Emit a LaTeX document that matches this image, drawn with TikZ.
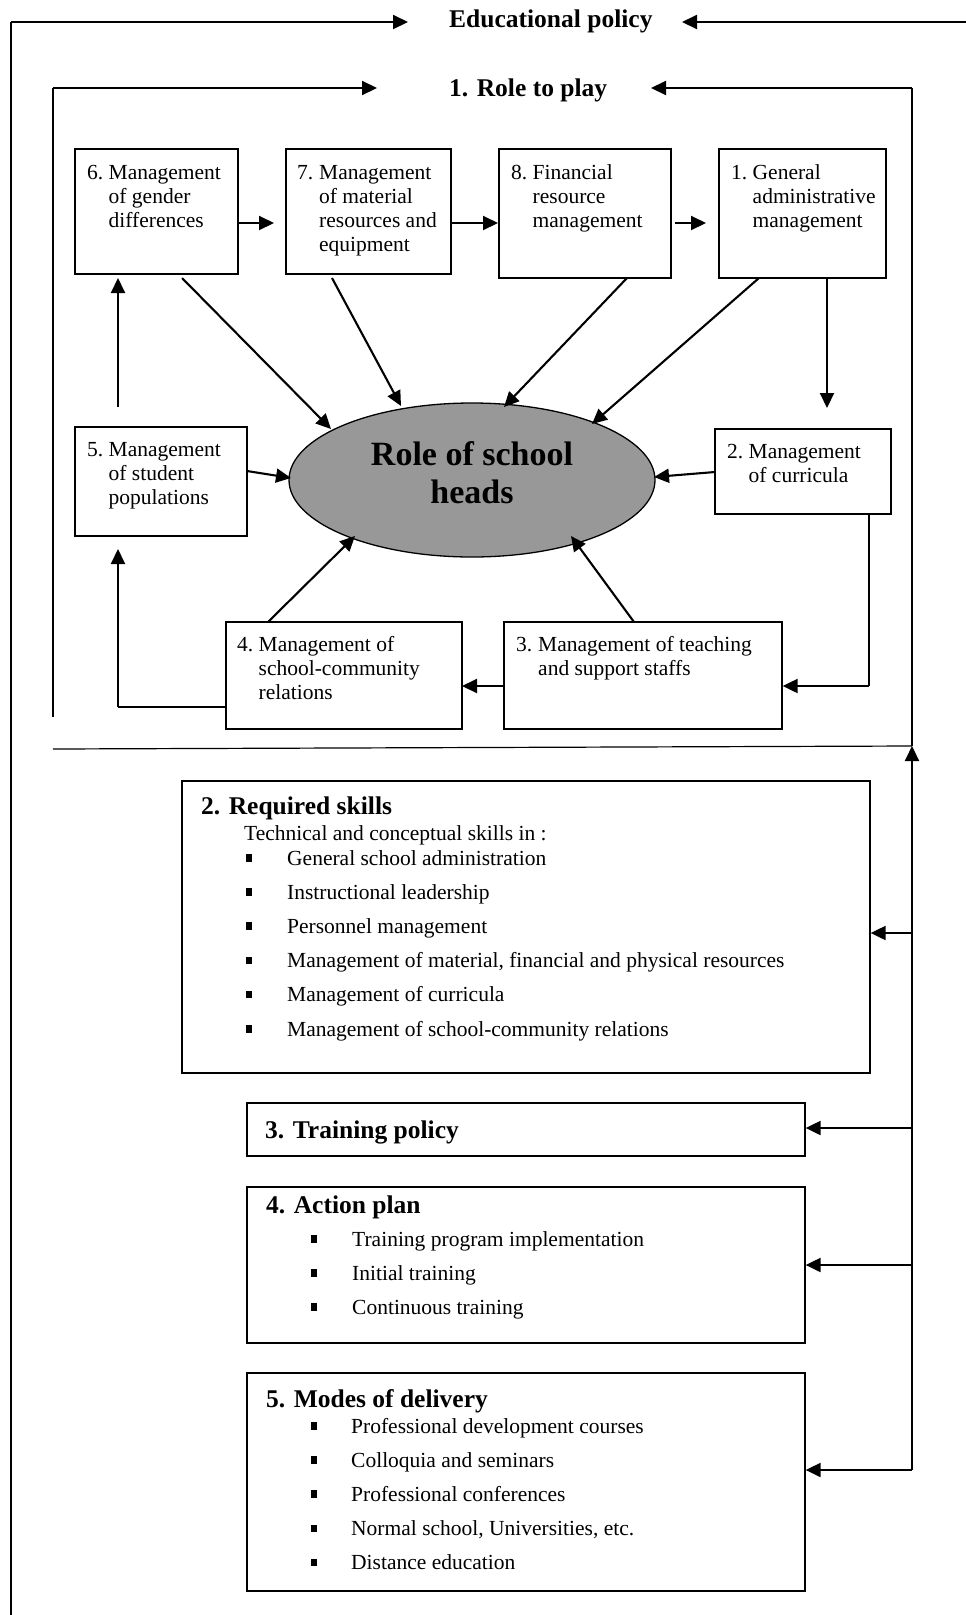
\documentclass[tikz,border=0pt]{standalone}
\usepackage{fontspec}
\setmainfont{Liberation Serif}
\usetikzlibrary{arrows.meta,shapes.geometric}
\definecolor{ellgray}{RGB}{152,152,152}
\begin{document}
\begin{tikzpicture}[x=1pt,y=-1pt,
  box/.style={draw, line width=1.3pt, inner sep=0pt, rectangle},
  frame/.style={line width=1.2pt},
  arr/.style={line width=2.1pt, -{Triangle[length=15pt,width=14pt]}},
  thinl/.style={line width=1.3pt},
  txt/.style={anchor=base west, inner sep=0pt, font=\fontsize{21.5}{24}\selectfont},
  head/.style={anchor=base west, inner sep=0pt, font=\fontsize{25.5}{30}\selectfont\bfseries}]
\useasboundingbox (0,0) rectangle (966,1615);
\fill[white] (0,0) rectangle (966,1615);

% ---------- titles ----------
\node[head] (ep) at (449,27) {Educational policy};
\node[head] (rp) at (449,96) {1. Role to play};

% ---------- outer frame ----------
\coordinate (o1) at (11,1615);
\coordinate (o2) at (11,22);
\coordinate (o2t) at (408,22);
\coordinate (o3) at (966,22);
\coordinate (o3t) at (682,22);
\draw[frame] (o1) -- (o2);
\draw[arr] (o2) -- (o2t);
\draw[arr] (o3) -- (o3t);

% ---------- inner frame ----------
\coordinate (i1) at (53,717);
\coordinate (i2) at (53,88);
\coordinate (i2t) at (377,88);
\coordinate (i3) at (912,746);
\coordinate (i4) at (912,88);
\coordinate (i4t) at (651,88);
\coordinate (sepL) at (53,749);
\draw[frame] (i1) -- (i2);
\draw[arr] (i2) -- (i2t);
\draw[frame] (i3) -- (i4);
\draw[arr] (i4) -- (i4t);
\draw[frame] (sepL) -- (i3);

% ---------- boxes of the role section ----------
\node[box, minimum width=163, minimum height=125] (b6) at (156.5,211.5) {};
\node[box, minimum width=165, minimum height=125] (b7) at (368.5,211.5) {};
\node[box, minimum width=172, minimum height=129] (b8) at (585,213.5) {};
\node[box, minimum width=167, minimum height=129] (b1) at (802.5,213.5) {};
\node[box, minimum width=172, minimum height=109] (b5) at (161,481.5) {};
\node[box, minimum width=176, minimum height=85] (b2) at (803,471.5) {};
\node[box, minimum width=236, minimum height=107] (b4) at (344,675.5) {};
\node[box, minimum width=278, minimum height=107] (b3) at (643,675.5) {};
\node[ellipse, draw, fill=ellgray, line width=1.3pt, inner sep=0pt,
      minimum width=366, minimum height=154] (el) at (472,480) {};

% box texts
\node[txt] (t6) at (87,179) {\begin{tabular}[t]{@{}p{21.5pt}@{}l@{}}6.&Management\\&of gender\\&differences\end{tabular}};
\node[txt] (t7) at (297,179) {\begin{tabular}[t]{@{}p{22pt}@{}l@{}}7.&Management\\&of material\\&resources and\\&equipment\end{tabular}};
\node[txt] (t8) at (511,179) {\begin{tabular}[t]{@{}p{21.5pt}@{}l@{}}8.&Financial\\&resource\\&management\end{tabular}};
\node[txt] (t1) at (731,179) {\begin{tabular}[t]{@{}p{21.5pt}@{}l@{}}1.&General\\&administrative\\&management\end{tabular}};
\node[txt] (t5) at (87,456) {\begin{tabular}[t]{@{}p{21.5pt}@{}l@{}}5.&Management\\&of student\\&populations\end{tabular}};
\node[txt] (t2) at (727,458) {\begin{tabular}[t]{@{}p{21.5pt}@{}l@{}}2.&Management\\&of curricula\end{tabular}};
\node[txt] (t4) at (237,651) {\begin{tabular}[t]{@{}p{21.5pt}@{}l@{}}4.&Management of\\&school-community\\&relations\end{tabular}};
\node[txt] (t3) at (516,651) {\begin{tabular}[t]{@{}p{22pt}@{}l@{}}3.&Management of teaching\\&and support staffs\end{tabular}};
\node[anchor=base, inner sep=0pt, font=\fontsize{34}{38}\selectfont\bfseries] (elt) at (472,465)
  {\begin{tabular}[t]{@{}c@{}}Role of school\\heads\end{tabular}};

% ---------- connectors of the role section ----------
\coordinate (a67) at (274,223);
\coordinate (a78) at (498,223);
\coordinate (a81s) at (675,223);
\coordinate (a81) at (706,223);
\draw[arr] (b6.east |- a67) -- (a67);
\draw[arr] (b7.east |- a78) -- (a78);
\draw[arr] (a81s) -- (a81);

\coordinate (c6s) at (182,278);  \coordinate (c6e) at (331,429);
\coordinate (c7s) at (332,278);  \coordinate (c7e) at (401,406);
\coordinate (c8s) at (627,278);  \coordinate (c8e) at (504,407);
\coordinate (c1s) at (759,278);  \coordinate (c1e) at (592,424);
\draw[arr] (c6s) -- (c6e);
\draw[arr] (c7s) -- (c7e);
\draw[arr] (c8s) -- (c8e);
\draw[arr] (c1s) -- (c1e);

\coordinate (c1d) at (827,278);  \coordinate (c1dt) at (827,408);
\draw[arr] (c1d) -- (c1dt);
\coordinate (c56s) at (118,407); \coordinate (c56t) at (118,278);
\draw[arr] (c56s) -- (c56t);

\coordinate (c5s) at (247,471);  \coordinate (c5e) at (291,478);
\coordinate (c2s) at (715,472);  \coordinate (c2e) at (654,477);
\coordinate (c4s) at (268,622);  \coordinate (c4e) at (355,536);
\coordinate (c3s) at (634,622);  \coordinate (c3e) at (571,536);
\draw[arr] (c5s) -- (c5e);
\draw[arr] (c2s) -- (c2e);
\draw[arr] (c4s) -- (c4e);
\draw[arr] (c3s) -- (c3e);

\coordinate (c23a) at (869,514); \coordinate (c23b) at (869,686);
\draw[thinl] (c23a) -- (c23b);
\draw[arr] (c23b) -- (c23b -| b3.east);
\coordinate (c34) at (462,686);
\draw[arr] (b3.west |- c34) -- (c34);
\coordinate (c45a) at (226,707); \coordinate (c45b) at (118,707); \coordinate (c45t) at (118,549);
\draw[thinl] (c45a) -- (c45b);
\draw[arr] (c45b) -- (c45t);

% ---------- lower section ----------
\node[box, minimum width=688, minimum height=292] (rs) at (526,927) {};
\node[box, minimum width=558, minimum height=53] (tp) at (526,1129.5) {};
\node[box, minimum width=558, minimum height=156] (ap) at (526,1265) {};
\node[box, minimum width=558, minimum height=218] (md) at (526,1482) {};

\coordinate (vtop) at (912,746);
\coordinate (vbot) at (912,1470);
\coordinate (v1) at (912,933);
\coordinate (v2) at (912,1128);
\coordinate (v3) at (912,1265);
\draw[arr] (vbot) -- (vtop);
\draw[arr] (v1) -- (v1 -| rs.east);
\draw[arr] (v2) -- (v2 -| tp.east);
\draw[arr] (v3) -- (v3 -| ap.east);
\draw[arr] (vbot) -- (vbot -| md.east);

\node[head] (rsh) at (201,814) {2. Required skills};
\node[txt] (rst) at (244,840) {Technical and conceptual skills in :};
\foreach \t [count=\i] in {General school administration, Instructional leadership,
  Personnel management, {Management of material, financial and physical resources},
  Management of curricula, Management of school-community relations} {
  \pgfmathsetmacro\yb{865+34.2*(\i-1)}
  \node[txt] (rs\i) at (287,\yb) {\t};
  \fill (246,\yb-11) rectangle ++(6,7.5);
}

\node[head] (tph) at (265,1138) {3. Training policy};

\node[head] (aph) at (266,1213) {4. Action plan};
\foreach \t [count=\i] in {Training program implementation, Initial training, Continuous training} {
  \pgfmathsetmacro\yb{1246+34*(\i-1)}
  \node[txt] (ap\i) at (352,\yb) {\t};
  \fill (311,\yb-11) rectangle ++(6,7.5);
}

\node[head] (mdh) at (266,1407) {5. Modes of delivery};
\foreach \t [count=\i] in {Professional development courses, Colloquia and seminars,
  Professional conferences, {Normal school, Universities, etc.}, Distance education} {
  \pgfmathsetmacro\yb{1433+34.2*(\i-1)}
  \node[txt] (md\i) at (351,\yb) {\t};
  \fill (310.5,\yb-11) rectangle ++(6,7.5);
}
\end{tikzpicture}
\end{document}
